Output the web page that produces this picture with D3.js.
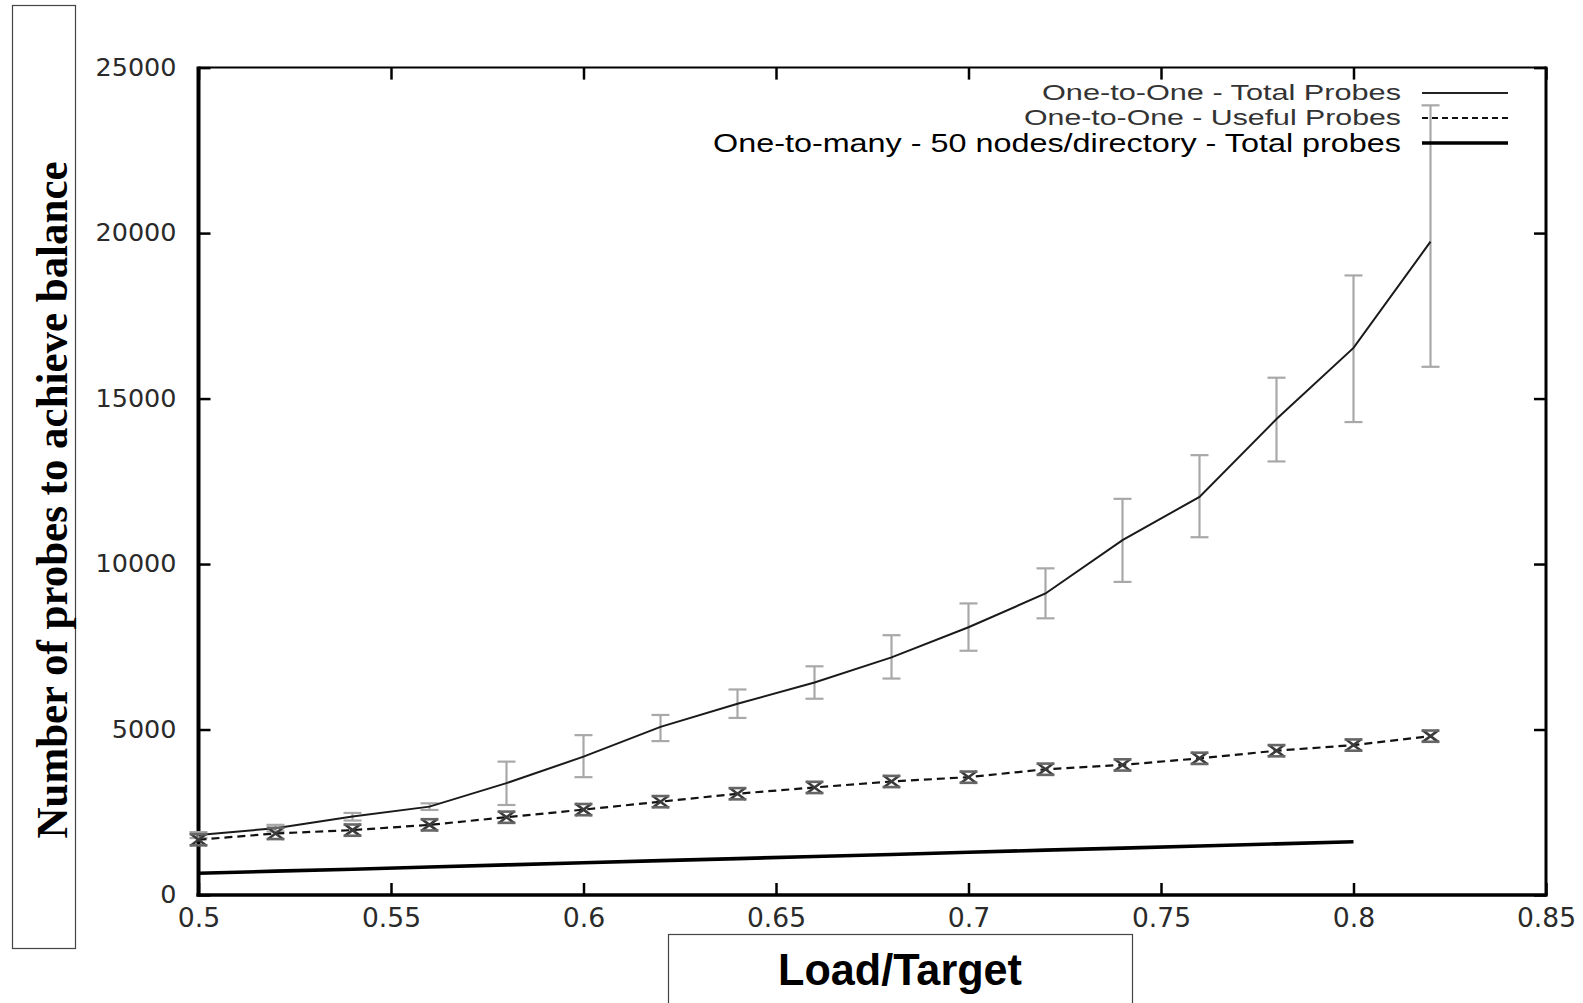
<!DOCTYPE html>
<html>
<head>
<meta charset="utf-8">
<script src="https://cdnjs.cloudflare.com/ajax/libs/d3/7.8.5/d3.min.js"></script>
<style>
  body { margin: 0; background: #fff; }
  svg { display: block; }
</style>
</head>
<body>
<div id="chart"></div>
<script>
// data
var loadTarget = [0.5, 0.52, 0.54, 0.56, 0.58, 0.6, 0.62, 0.64, 0.66, 0.68, 0.7, 0.72, 0.74, 0.76, 0.78, 0.8, 0.82];
var totalProbes = [1810, 2020, 2370, 2670, 3380, 4180, 5080, 5780, 6420, 7180, 8090, 9110, 10720, 12030, 14380, 16530, 19740];
var totalLow    = [1720, 1920, 2250, 2570, 2720, 3560, 4650, 5350, 5930, 6540, 7380, 8360, 9460, 10810, 13100, 14290, 15960];
var totalHigh   = [1900, 2120, 2480, 2770, 4030, 4830, 5440, 6210, 6910, 7850, 8810, 9870, 11970, 13290, 15630, 18720, 23860];
var usefulProbes = [1670, 1860, 1960, 2120, 2350, 2580, 2820, 3060, 3250, 3430, 3560, 3800, 3930, 4130, 4360, 4530, 4800];
var usefulErr    = [170, 170, 170, 170, 170, 170, 170, 170, 170, 170, 170, 170, 170, 170, 170, 170, 170];
var manyLoad = [0.5, 0.52, 0.54, 0.56, 0.58, 0.6, 0.62, 0.64, 0.66, 0.68, 0.7, 0.72, 0.74, 0.76, 0.78, 0.8];
var manyProbes = [655, 720, 780, 845, 910, 975, 1040, 1100, 1165, 1225, 1290, 1355, 1415, 1480, 1545, 1608];

var xTicks = [0.5, 0.55, 0.6, 0.65, 0.7, 0.75, 0.8, 0.85];
var yTicks = [0, 5000, 10000, 15000, 20000, 25000];
var legendLabels = ["One-to-One - Total Probes", "One-to-One - Useful Probes", "One-to-many - 50 nodes/directory - Total probes"];

var W = 1583, H = 1003;
var pLeft = 198.5, pRight = 1546, pTop = 67.6, pBottom = 895;

var svg = d3.select("#chart").append("svg")
  .attr("width", W).attr("height", H);

var x = d3.scaleLinear().domain([0.5, 0.85]).range([pLeft, pRight]);
var y = d3.scaleLinear().domain([0, 25000]).range([pBottom, pTop]);

// axes, ticks pointing inward
var xAxis = d3.axisBottom(x).tickValues(xTicks).tickSize(-12).tickSizeOuter(0).tickPadding(14)
  .tickFormat(function(d){ return String(+d.toFixed(2)); });
var yAxis = d3.axisLeft(y).tickValues(yTicks).tickSize(-12).tickSizeOuter(0).tickPadding(22)
  .tickFormat(d3.format("d"));

var gx = svg.append("g").attr("transform", "translate(0," + pBottom + ")").call(xAxis);
var gy = svg.append("g").attr("transform", "translate(" + pLeft + ",0)").call(yAxis);
svg.append("g").attr("transform", "translate(0," + pTop + ")")
  .call(d3.axisTop(x).tickValues(xTicks).tickSize(-12).tickSizeOuter(0).tickFormat(""));
svg.append("g").attr("transform", "translate(" + pRight + ",0)")
  .call(d3.axisRight(y).tickValues(yTicks).tickSize(-12).tickSizeOuter(0).tickFormat(""));

svg.selectAll(".domain").remove();
svg.selectAll(".tick line").attr("stroke", "#000").attr("stroke-width", 2.5);

gx.selectAll("text")
  .attr("font-family", "DejaVu Sans").attr("font-size", 26).attr("fill", "#2a2a2a")
  .attr("textLength", function(d){ var s = String(+d.toFixed(2)); return s.length * 16.5 - 7; })
  .attr("lengthAdjust", "spacingAndGlyphs");
gy.selectAll("text")
  .attr("font-family", "DejaVu Sans").attr("font-size", 24).attr("fill", "#2a2a2a")
  .attr("textLength", function(d){ return String(d).length * 16.2; })
  .attr("lengthAdjust", "spacingAndGlyphs");

// frame
var frame = svg.append("g").attr("stroke", "#000");
frame.append("line").attr("x1", pLeft).attr("x2", pRight).attr("y1", pTop).attr("y2", pTop).attr("stroke-width", 2);
frame.append("line").attr("x1", pRight).attr("x2", pRight).attr("y1", pTop - 1).attr("y2", pBottom + 1).attr("stroke-width", 3);
frame.append("line").attr("x1", pLeft - 2).attr("x2", pRight + 1.5).attr("y1", pBottom).attr("y2", pBottom).attr("stroke-width", 3.5);
frame.append("line").attr("x1", pLeft).attr("x2", pLeft).attr("y1", pTop - 1).attr("y2", pBottom + 1.5).attr("stroke-width", 4);

var plot = svg.append("g");

// error bars for total probes
var eb = plot.append("g").attr("stroke", "#a8a8a8").attr("stroke-width", 2.2);
loadTarget.forEach(function(d, i){
  var cx = x(d);
  eb.append("line").attr("x1", cx).attr("x2", cx).attr("y1", y(totalLow[i])).attr("y2", y(totalHigh[i]));
  eb.append("line").attr("x1", cx - 9).attr("x2", cx + 9).attr("y1", y(totalLow[i])).attr("y2", y(totalLow[i]));
  eb.append("line").attr("x1", cx - 9).attr("x2", cx + 9).attr("y1", y(totalHigh[i])).attr("y2", y(totalHigh[i]));
});

var line = d3.line().x(function(d){ return x(d[0]); }).y(function(d){ return y(d[1]); });

plot.append("path")
  .datum(d3.zip(loadTarget, totalProbes))
  .attr("d", line)
  .attr("fill", "none").attr("stroke", "#1a1a1a").attr("stroke-width", 2);

plot.append("path")
  .datum(d3.zip(loadTarget, usefulProbes))
  .attr("d", line)
  .attr("fill", "none").attr("stroke", "#111").attr("stroke-width", 2.2)
  .attr("stroke-dasharray", "8,5");

// useful probes markers (x with small error bar caps)
var mk = plot.append("g").attr("stroke", "#3a3a3a").attr("stroke-width", 2.6);
loadTarget.forEach(function(d, i){
  var cx = x(d), cy = y(usefulProbes[i]);
  var lo = y(usefulProbes[i] - usefulErr[i]), hi = y(usefulProbes[i] + usefulErr[i]);
  mk.append("line").attr("x1", cx - 8).attr("x2", cx + 8).attr("y1", cy - 6).attr("y2", cy + 6);
  mk.append("line").attr("x1", cx - 8).attr("x2", cx + 8).attr("y1", cy + 6).attr("y2", cy - 6);
  mk.append("line").attr("x1", cx - 9).attr("x2", cx + 9).attr("y1", lo).attr("y2", lo).attr("stroke", "#666");
  mk.append("line").attr("x1", cx - 9).attr("x2", cx + 9).attr("y1", hi).attr("y2", hi).attr("stroke", "#666");
});

plot.append("path")
  .datum(d3.zip(manyLoad, manyProbes))
  .attr("d", line)
  .attr("fill", "none").attr("stroke", "#000").attr("stroke-width", 3.6);

// legend
var legY = [93, 118, 143];
var legBase = [100, 125, 152];
var legSize = [22, 22, 25];
var legLen = [359, 377, 688];
var legColor = ["#333", "#333", "#000"];
var leg = svg.append("g");
legendLabels.forEach(function(t, i){
  leg.append("text")
    .attr("x", 1401).attr("y", legBase[i])
    .attr("text-anchor", "end")
    .attr("font-family", "Liberation Sans, Arial, sans-serif")
    .attr("font-size", legSize[i])
    .attr("fill", legColor[i])
    .attr("textLength", legLen[i]).attr("lengthAdjust", "spacingAndGlyphs")
    .text(t);
});
leg.append("line").attr("x1", 1422).attr("x2", 1508).attr("y1", legY[0]).attr("y2", legY[0])
  .attr("stroke", "#222").attr("stroke-width", 2);
leg.append("line").attr("x1", 1422).attr("x2", 1508).attr("y1", legY[1]).attr("y2", legY[1])
  .attr("stroke", "#111").attr("stroke-width", 2.2).attr("stroke-dasharray", "6,4");
leg.append("line").attr("x1", 1422).attr("x2", 1508).attr("y1", legY[2]).attr("y2", legY[2])
  .attr("stroke", "#000").attr("stroke-width", 3.6);

// y axis title box
svg.append("rect")
  .attr("x", 12.5).attr("y", 5.5).attr("width", 63).attr("height", 943)
  .attr("fill", "none").attr("stroke", "#444").attr("stroke-width", 1.2);
svg.append("text")
  .attr("transform", "translate(67,500) rotate(-90)")
  .attr("text-anchor", "middle")
  .attr("font-family", "Liberation Serif, Times New Roman, serif")
  .attr("font-weight", "bold").attr("font-size", 44)
  .attr("textLength", 677).attr("lengthAdjust", "spacingAndGlyphs")
  .text("Number of probes to achieve balance");

// x axis title box
svg.append("rect")
  .attr("x", 668.5).attr("y", 934.5).attr("width", 464).attr("height", 80)
  .attr("fill", "none").attr("stroke", "#444").attr("stroke-width", 1.2);
svg.append("text")
  .attr("x", 900).attr("y", 985)
  .attr("text-anchor", "middle")
  .attr("font-family", "Liberation Sans, Arial, sans-serif")
  .attr("font-weight", "bold").attr("font-size", 44)
  .attr("textLength", 244).attr("lengthAdjust", "spacingAndGlyphs")
  .text("Load/Target");
</script>
</body>
</html>
